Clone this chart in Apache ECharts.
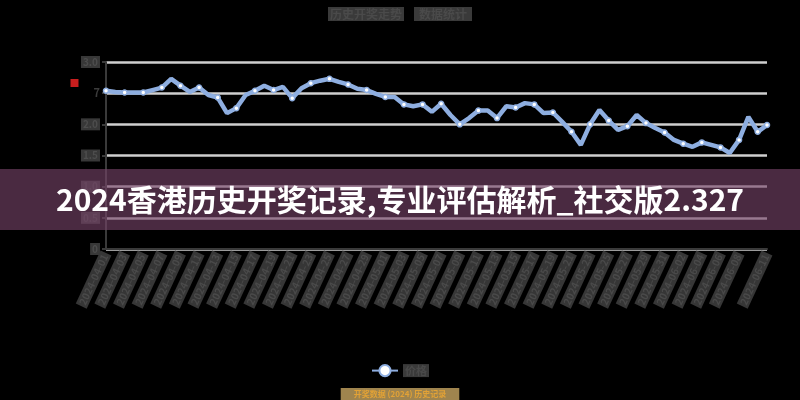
<!DOCTYPE html>
<html lang="zh" style="width: 100%;height:100%">
    <head>
        <meta charset="UTF-8">
        <title>开奖走势</title>
        <script src="https://cdn.jsdelivr.net/npm/echarts@6/dist/echarts.min.js"></script>
    </head>

    <body style="width: 100%;height:100%;margin:0;background:#000">
        <div id="line" style="width: 800px;height:400px"></div>
        <script>
            // x 轴日期
            var dates = [
                '2024-04-01','2024-04-02','2024-04-03','2024-04-04','2024-04-05','2024-04-06','2024-04-07','2024-04-08','2024-04-09','2024-04-10',
                '2024-04-11','2024-04-12','2024-04-13','2024-04-14','2024-04-15','2024-04-16','2024-04-17','2024-04-18','2024-04-19','2024-04-20',
                '2024-04-21','2024-04-22','2024-04-23','2024-04-24','2024-04-25','2024-04-26','2024-04-27','2024-04-28','2024-04-29','2024-04-30',
                '2024-05-01','2024-05-02','2024-05-03','2024-05-04','2024-05-05','2024-05-06','2024-05-07','2024-05-08','2024-05-09','2024-05-10',
                '2024-05-11','2024-05-12','2024-05-13','2024-05-14','2024-05-15','2024-05-16','2024-05-17','2024-05-18','2024-05-19','2024-05-20',
                '2024-05-21','2024-05-22','2024-05-23','2024-05-24','2024-05-25','2024-05-26','2024-05-27','2024-05-28','2024-05-29','2024-05-30',
                '2024-05-31','2024-06-01','2024-06-02','2024-06-03','2024-06-04','2024-06-05','2024-06-06','2024-06-07','2024-06-08','2024-06-09',
                '2024-06-10','2024-06-11'
            ];

            // 走势数值
            var prices = [
                2.54, 2.52, 2.51, 2.51, 2.51, 2.55, 2.59, 2.73, 2.62, 2.52,
                2.59, 2.47, 2.43, 2.18, 2.26, 2.47, 2.54, 2.62, 2.55, 2.60,
                2.42, 2.58, 2.66, 2.70, 2.73, 2.68, 2.64, 2.57, 2.55, 2.49,
                2.44, 2.44, 2.32, 2.29, 2.32, 2.20, 2.33, 2.15, 2.00, 2.10,
                2.22, 2.22, 2.10, 2.29, 2.27, 2.34, 2.32, 2.18, 2.19, 2.04,
                1.88, 1.67, 2.00, 2.23, 2.06, 1.91, 1.97, 2.15, 2.02, 1.94,
                1.87, 1.75, 1.69, 1.64, 1.71, 1.67, 1.63, 1.54, 1.75, 2.12,
                1.88, 1.99
            ];

            var seriesName = '价格';
            var titleParts = ['历史开奖走势', '数据统计'];
            var sourceText = '开奖数据 (2024) 历史记录';
            var bannerText = '2024香港历史开奖记录,专业评估解析_社交版2.327';

            var font = '"Noto Sans CJK SC", "Noto Sans", sans-serif';
            var lineColor = '#8eaee0';

            const myChart = echarts.init(document.getElementById('line'));

            const option = {
                backgroundColor: '#000',
                textStyle: { fontFamily: font },
                title: [
                    {
                        text: '{a|' + titleParts[0] + '}{sp|}{b|' + titleParts[1] + '}',
                        left: 'center',
                        top: 5,
                        padding: 0,
                        textStyle: {
                            rich: {
                                a: { color: '#4a4a4a', fontSize: 12, fontWeight: 'bold', backgroundColor: '#3a3a3a', padding: [1, 2] },
                                b: { color: '#4a4a4a', fontSize: 12, fontWeight: 'bold', backgroundColor: '#3a3a3a', padding: [1, 5] },
                                sp: { width: 10 }
                            }
                        }
                    },
                    {
                        text: sourceText,
                        left: 'center',
                        top: 388,
                        padding: [2, 13],
                        backgroundColor: '#9f844e',
                        textStyle: {
                            color: '#e2a236', fontSize: 8, fontWeight: 'bold'
                        }
                    }
                ],
                legend: {
                    data: [seriesName],
                    left: 'center',
                    top: 359,
                    itemWidth: 26,
                    itemHeight: 14,
                    textStyle: { color: '#4a4a4a', fontSize: 11, fontWeight: 'bold', backgroundColor: '#3a3a3a', padding: [1, 2] }
                },
                grid: { left: 106, right: 33, top: 62, bottom: 151, containLabel: false },
                xAxis: {
                    type: 'category',
                    data: dates,
                    boundaryGap: false,
                    axisLine: { lineStyle: { color: '#3a3a3a', width: 2 } },
                    axisTick: { show: false },
                    axisLabel: {
                        interval: 1,
                        showMaxLabel: true,
                        rotate: 65,
                        margin: 4,
                        color: '#4a4a4a',
                        fontSize: 10,
                        fontWeight: 'bold',
                        backgroundColor: '#363636',
                        padding: [1, 2]
                    },
                    splitLine: { show: false }
                },
                yAxis: {
                    type: 'value',
                    min: 0,
                    max: 3,
                    interval: 0.5,
                    axisLine: { show: true, lineStyle: { color: '#3a3a3a', width: 2 } },
                    axisTick: { show: true, length: 4, lineStyle: { color: '#3a3a3a', width: 2 } },
                    splitLine: { lineStyle: { color: '#cfcfcf', width: 2.5 } },
                    axisLabel: {
                        margin: 6,
                        formatter: function (v) {
                            if (v === 2.5) return '{r|■}{k|7}';
                            return '{b|' + (v === 0 ? '0' : v.toFixed(1)) + '}';
                        },
                        rich: {
                            b: { color: '#4d4d4d', fontSize: 10, fontWeight: 'bold', backgroundColor: '#383838', padding: [1, 2] },
                            r: { color: '#c81e1e', fontSize: 10, padding: [0, 14, 20, 0] },
                            k: { color: '#3c3c3c', fontSize: 11, fontWeight: 'bold' }
                        }
                    }
                },
                series: [
                    {
                        name: seriesName,
                        type: 'line',
                        data: prices,
                        symbol: 'circle',
                        symbolSize: 5,
                        showAllSymbol: false,
                        lineStyle: { color: lineColor, width: 4.5 },
                        itemStyle: { color: '#fff', borderColor: lineColor, borderWidth: 1.5 }
                    }
                ],
                graphic: [
                    {
                        type: 'rect',
                        z: 100,
                        shape: { x: 0, y: 169, width: 800, height: 61 },
                        style: { fill: 'rgba(120,68,105,0.62)' }
                    },
                    {
                        type: 'text',
                        z: 101,
                        x: 400,
                        y: 200,
                        style: {
                            text: bannerText,
                            fill: '#fff',
                            fontSize: 30,
                            fontWeight: 'bold',
                            fontFamily: font,
                            align: 'center',
                            verticalAlign: 'middle'
                        }
                    }
                ]
            };

            myChart.setOption(option);
        </script>
    </body>
</html>
